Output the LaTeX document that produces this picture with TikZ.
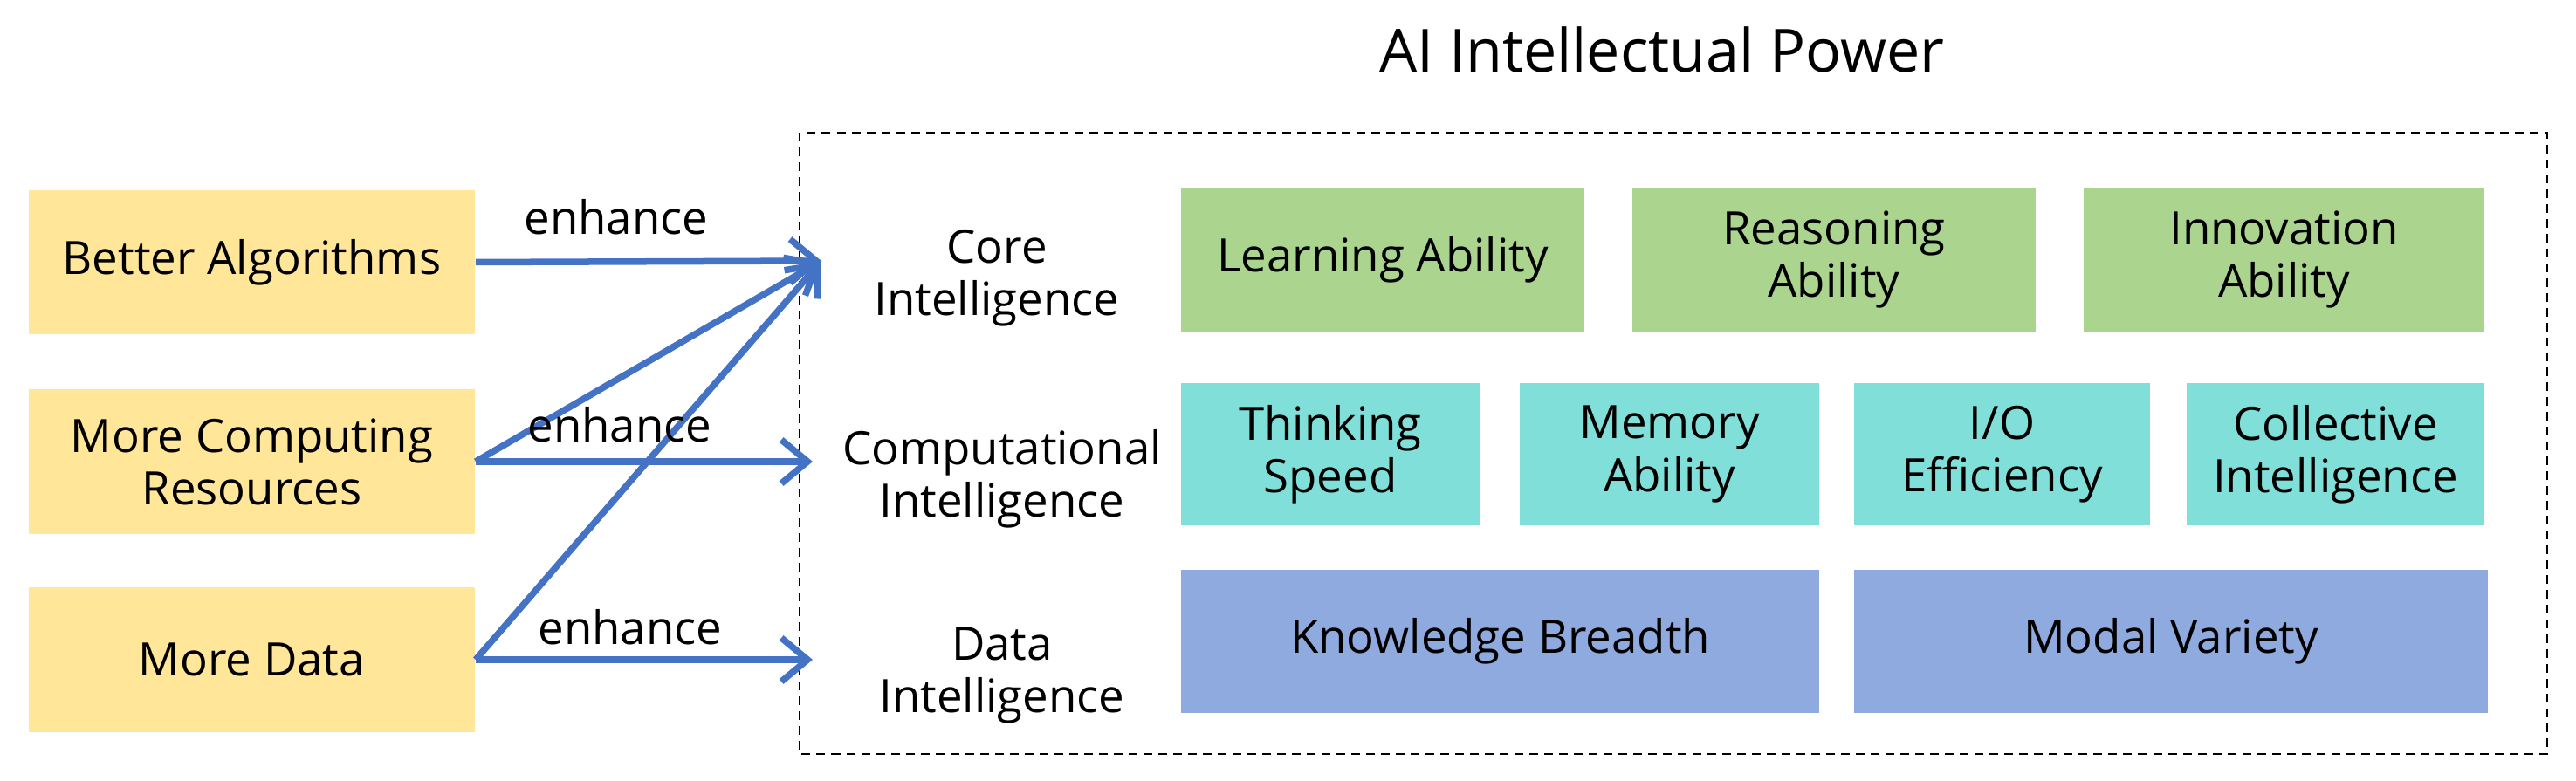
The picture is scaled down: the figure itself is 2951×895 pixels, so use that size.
\documentclass[tikz,border=0pt]{standalone}
\usepackage{fontspec}
\setmainfont{Open Sans}
\usetikzlibrary{arrows.meta}
\definecolor{cyel}{HTML}{FFE699}
\definecolor{cgreen}{HTML}{ABD58F}
\definecolor{cteal}{HTML}{80DFD8}
\definecolor{cblue}{HTML}{8FAADF}
\definecolor{carrow}{HTML}{4472C4}
\newcommand\myfs{\fontsize{15}{17.1}\selectfont}
\begin{document}
\begin{tikzpicture}[x=0.01cm,y=-0.01cm,
  box/.style={draw=none, inner sep=0pt, align=center, font=\myfs},
  ybox/.style={box, fill=cyel, minimum width=5.11cm, minimum height=1.65cm},
  gbox/.style={box, fill=cgreen, minimum height=1.65cm},
  tbox/.style={box, fill=cteal, minimum height=1.63cm},
  bbox/.style={box, fill=cblue, minimum height=1.64cm},
  rowlab/.style={inner sep=0pt, align=center, font=\myfs},
  enh/.style={inner sep=0pt, anchor=base, font=\myfs},
  arr/.style={draw=carrow, line width=0.075cm, -{Straight Barb[length=0.3cm,width=0.5cm]}},
  frame/.style={draw=black, line width=0.028cm, dash pattern=on 0.1cm off 0.07cm}
]
\useasboundingbox (0,0) rectangle (2951,895);

% title
\node[inner sep=0pt, anchor=base, font=\fontsize{19.4}{22}\selectfont] (title) at (1904,83) {AI Intellectual Power};

% dashed frame
\draw[frame] (916,152) rectangle (2918,864);

% left boxes
\node[ybox] (ya) at (288.5,300.5) {Better Algorithms};
\node[ybox] (yb) at (288.5,529) {More Computing\\Resources};
\node[ybox] (yc) at (288.5,756) {More Data};

% row labels
\node[rowlab] (core) at (1142,319) {Core\\Intelligence};
\node[rowlab] (comp) at (1148,549) {Computational\\Intelligence};
\node[rowlab] (data) at (1148,774) {Data\\Intelligence};

% green row
\node[gbox, minimum width=4.62cm] (learn) at (1584,297.5) {Learning Ability};
\node[gbox, minimum width=4.62cm] (reason) at (2101,297.5) {Reasoning\\Ability};
\node[gbox, minimum width=4.59cm] (innov) at (2616.5,297.5) {Innovation\\Ability};

% teal row
\node[tbox, minimum width=3.42cm] (think) at (1524,520.5) {Thinking\\Speed};
\node[tbox, minimum width=3.43cm] (mem) at (1912.5,520.5) {Memory\\Ability};
\node[tbox, minimum width=3.39cm] (io) at (2293.5,520.5) {I/O\\Efficiency};
\node[tbox, minimum width=3.41cm] (coll) at (2675.5,520.5) {Collective\\Intelligence};

% blue row
\node[bbox, minimum width=7.31cm] (know) at (1718.5,735) {Knowledge Breadth};
\node[bbox, minimum width=7.26cm] (modal) at (2487,735) {Modal Variety};

% arrow tips
\coordinate (tipA) at (941,299);
\coordinate (tipB) at (931,529);
\coordinate (tipC) at (931,756);

\draw[arr] (ya.east) -- (tipA);
\draw[arr] (yb.east) -- (tipB);
\draw[arr] (yc.east) -- (tipC);
\draw[arr] (yb.east) -- (tipA);
\draw[arr] (yc.east) -- (tipA);

% enhance labels
\node[enh] (e1) at (706,269) {enhance};
\node[enh] (e2) at (710,507) {enhance};
\node[enh] (e3) at (722,739) {enhance};
\end{tikzpicture}
\end{document}
